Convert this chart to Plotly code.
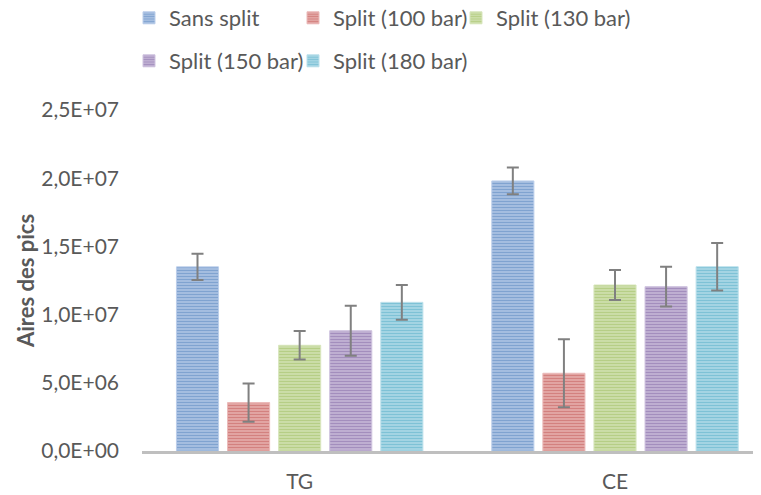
import plotly.graph_objects as go

categories = ["TG", "CE"]
series_names = ["Sans split", "Split (100 bar)", "Split (130 bar)", "Split (150 bar)", "Split (180 bar)"]
values = [
    [1.35e7, 1.98e7],
    [3.55e6, 5.70e6],
    [7.75e6, 1.217e7],
    [8.82e6, 1.205e7],
    [1.09e7, 1.351e7],
]
errors = [
    [0.97e6, 0.98e6],
    [1.40e6, 2.50e6],
    [1.05e6, 1.10e6],
    [1.83e6, 1.46e6],
    [1.27e6, 1.74e6],
]
y_tickvals = [0, 5e6, 1e7, 1.5e7, 2e7, 2.5e7]
y_ticktext = ["0,0E+00", "5,0E+06", "1,0E+07", "1,5E+07", "2,0E+07", "2,5E+07"]

fg_colors = ["#4678B6", "#BB4845", "#93B650", "#77599B", "#40A4C1"]
bg_colors = ["#BBCEEA", "#EBBAB9", "#D8E6BD", "#CFC3DF", "#BCE0EB"]

FONT = "Lato"
TXT = "#595959"
FS = 21
LFS = 22

# page body has an 8px default margin: figure coordinates are page - 8
W, H = 753, 487
OFF = 8

# legend entry text-start positions in page pixels (col, row)
leg_pos = [(169, 18), (333, 18), (496, 18), (169, 61), (333, 61)]

fig = go.Figure()
layout_legends = {}
for i, name in enumerate(series_names):
    key = "legend" if i == 0 else f"legend{i + 1}"
    fig.add_trace(go.Bar(
        name=name,
        x=categories,
        y=values[i],
        legend=key,
        showlegend=True,
        marker=dict(
            color=bg_colors[i],
            line=dict(color=bg_colors[i], width=1),
            pattern=dict(shape="-", fgcolor=fg_colors[i], size=3, solidity=0.6, fillmode="overlay"),
        ),
        error_y=dict(type="data", array=errors[i], color="#808080", thickness=2, width=6),
    ))
    px, py = leg_pos[i]
    layout_legends[key] = dict(
        orientation="h", xref="container", yref="container",
        x=(px - 40 - OFF) / W, y=1 - (py - OFF) / H,
        xanchor="left", yanchor="middle",
        font=dict(size=LFS, color=TXT), bgcolor="rgba(0,0,0,0)",
    )

fig.update_layout(
    width=W, height=H,
    showlegend=True,
    margin=dict(l=142 - OFF, r=0, t=110 - OFF, b=44, autoexpand=False),
    paper_bgcolor="white", plot_bgcolor="white",
    font=dict(family=FONT, size=FS, color=TXT),
    barmode="group",
    bargap=0.19,
    bargroupgap=0.176,
    xaxis=dict(
        type="category", range=[-0.5, 1.463], automargin=False,
        showline=True, linecolor="#BFBFBF", linewidth=3,
        showgrid=False, zeroline=False, ticks="", ticklabelstandoff=10,
        tickfont=dict(size=FS, color=TXT),
    ),
    yaxis=dict(
        range=[0, 2.5e7], tickvals=y_tickvals, ticktext=y_ticktext, automargin=False,
        showgrid=False, zeroline=False, showline=False,
        ticks="", ticklabelstandoff=22,
        tickfont=dict(size=FS, color=TXT),
        title=dict(text="<b>Aires des pics</b>", font=dict(size=22, color=TXT), standoff=0),
    ),
    **layout_legends,
)

fig.write_html("out.html")
